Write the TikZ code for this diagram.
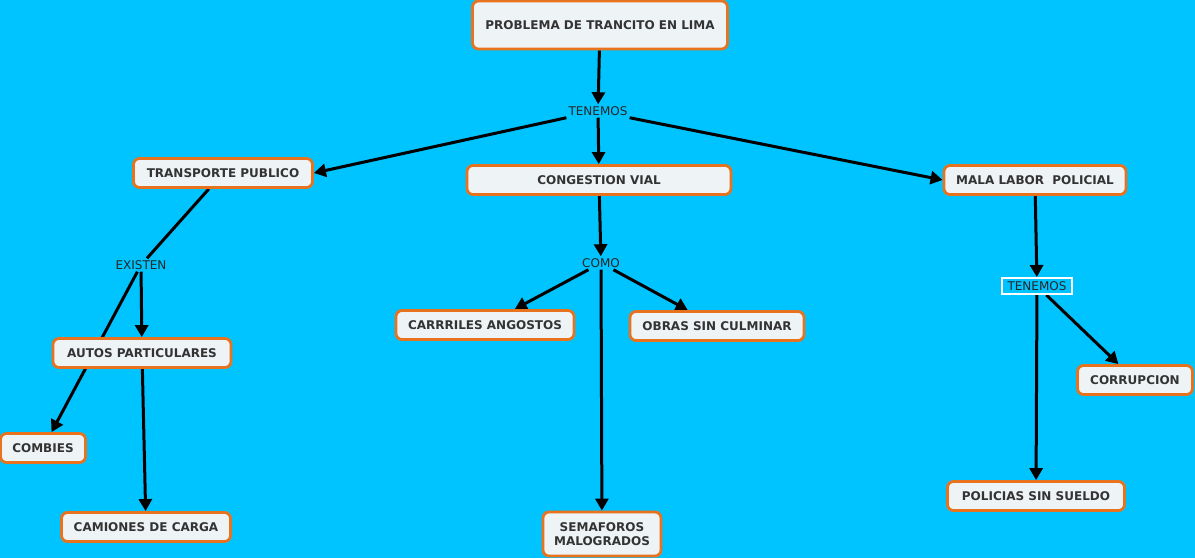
\documentclass[tikz,border=0pt]{standalone}
\usepackage{fontspec}
\setmainfont{DejaVu Sans}
\usetikzlibrary{arrows.meta,backgrounds}

\definecolor{fondo}{RGB}{0,196,255}
\definecolor{borde}{RGB}{232,115,30}
\definecolor{relleno}{RGB}{238,243,245}
\definecolor{letra}{RGB}{51,51,51}

\tikzset{
    caja/.style={draw=borde, line width=2.8pt, fill=relleno, rounded corners=6pt,
        text=letra, font=\bfseries\fontsize{12}{14.5}\selectfont, minimum height=29pt, inner sep=0pt},
    enlace/.style={text=black!85, font=\fontsize{12}{14}\selectfont, inner sep=2pt},
    flecha/.style={line width=3pt, -{Triangle[length=12pt,width=13pt]}},
    linea/.style={line width=3pt}
}

\begin{document}
\begin{tikzpicture}[x=1pt,y=-1pt]
    \useasboundingbox (0,0) rectangle (1195,558);

    % conceptos
    \node[caja, minimum width=255pt, minimum height=48pt](prob) at (600,25){PROBLEMA DE TRANCITO EN LIMA};
    \node[enlace](ten1) at (598,111){TENEMOS};

    \node[caja, minimum width=179pt](trans) at (223,173){TRANSPORTE PUBLICO};
    \node[caja, minimum width=264pt](cong) at (599,180){CONGESTION VIAL};
    \node[caja, minimum width=182pt](mala) at (1035,180){MALA LABOR\ \ POLICIAL};

    \node[enlace](exis) at (141,265){EXISTEN};
    \node[enlace](como) at (601,263){COMO};
    \node[enlace, draw=white, line width=2pt, minimum width=70pt, minimum height=16pt](ten2) at (1037,286){TENEMOS};

    \node[caja, minimum width=178pt](autos) at (142,353){AUTOS PARTICULARES};
    \node[caja, minimum width=85pt](comb) at (43,448){COMBIES};
    \node[caja, minimum width=169pt](cami) at (146,527){CAMIONES DE CARGA};

    \node[caja, minimum width=178pt](carr) at (485,325){CARRRILES ANGOSTOS};
    \node[caja, minimum width=174pt](obras) at (717,326){OBRAS SIN CULMINAR};
    \node[caja, minimum width=118pt, minimum height=44pt, align=center](sema) at (602,534){SEMAFOROS\\MALOGRADOS};

    \node[caja, minimum width=115pt](corr) at (1135,380){CORRUPCION};
    \node[caja, minimum width=177pt](poli) at (1036,496){POLICIAS SIN SUELDO};

    % conectores, debajo de las cajas
    \begin{scope}[on background layer]
        \fill[fondo](0,0)rectangle(1195,558);

        \draw[flecha](prob)--(ten1);
        \draw[flecha](ten1.south west)--(trans.east);
        \draw[flecha](ten1)--(cong);
        \draw[flecha](ten1.south east)--(mala.west);

        \draw[linea](trans)--(exis);
        \draw[flecha](exis)--(autos);
        \draw[flecha](exis)--(comb);
        \draw[flecha](autos)--(cami);

        \draw[flecha](cong)--(como);
        \draw[flecha](como)--(carr);
        \draw[flecha](como)--(obras);
        \draw[flecha](como)--(sema);

        \draw[flecha](mala)--(ten2);
        \draw[flecha](ten2)--(corr);
        \draw[flecha](ten2)--(poli);
    \end{scope}
\end{tikzpicture}
\end{document}
